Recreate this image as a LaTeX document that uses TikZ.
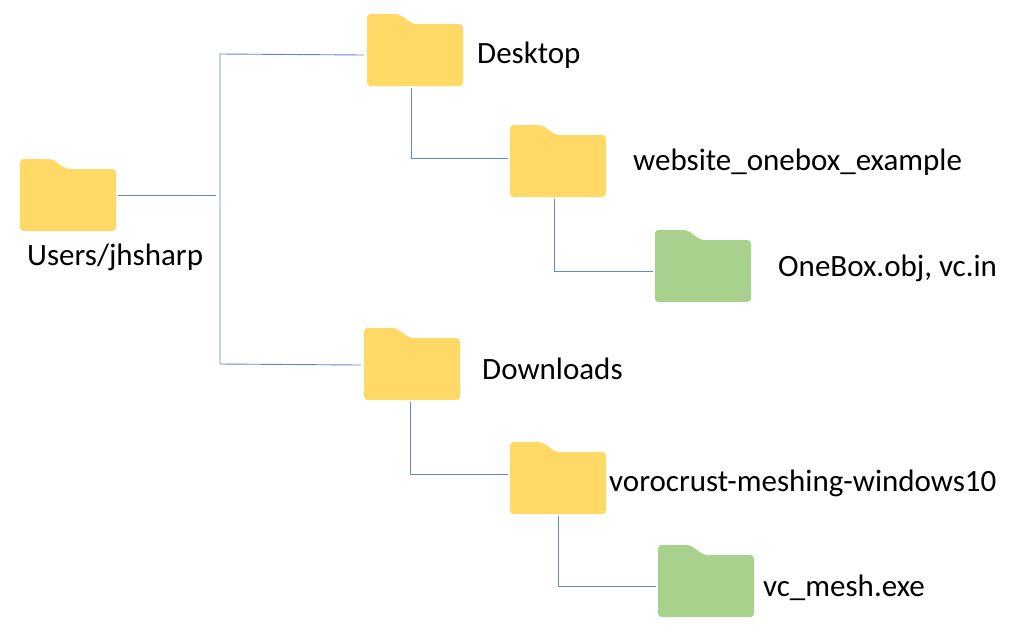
\documentclass[tikz,border=0pt]{standalone}
\usepackage{fontspec}
\setmainfont{Carlito}
\definecolor{folderyellow}{HTML}{FFD966}
\definecolor{foldergreen}{HTML}{A9D18E}
\definecolor{linkblue}{HTML}{5F86D2}
\tikzset{
  folderbox/.style={minimum width=96pt,minimum height=72pt,inner sep=0pt,outer sep=2pt,anchor=north west},
  folderlabel/.style={font=\fontsize{31}{34}\selectfont,text=black,inner sep=0pt,anchor=base west},
  link/.style={draw=linkblue,line width=0.9pt,line join=miter}
}
% A folder icon with its bounding node; #1 name, #2 colour, #3 left edge, #4 top edge
\newcommand{\foldericon}[4]{%
  \node[folderbox] (#1) at (#3-2,#4-2) {};
  \fill[#2,rounded corners=3.5pt] (#3,#4+72) -- (#3,#4) -- (#3+32,#4) -- (#3+46,#4+10)
     -- (#3+96,#4+10) -- (#3+96,#4+72) -- cycle;
}
\begin{document}
\begin{tikzpicture}[x=1pt,y=-1pt]
\useasboundingbox[fill=white] (0,0) rectangle (1024,641);

\foldericon{users}{folderyellow}{20}{159}
\foldericon{desktop}{folderyellow}{367}{14}
\foldericon{website}{folderyellow}{510}{125}
\foldericon{onebox}{foldergreen}{655}{230}
\foldericon{downloads}{folderyellow}{364}{328}
\foldericon{voro}{folderyellow}{510}{442}
\foldericon{vcmesh}{foldergreen}{658}{545}

\node[folderlabel] (tusers) at (27,265) {Users/jhsharp};
\node[folderlabel] (tdesktop) at (477,63) {Desktop};
\node[folderlabel] (twebsite) at (633,170) {website\_onebox\_example};
\node[folderlabel] (tonebox) at (778,276) {OneBox.obj, vc.in};
\node[folderlabel] (tdownloads) at (482,379) {Downloads};
\node[folderlabel] (tvoro) at (609,491) {vorocrust-meshing-windows10};
\node[folderlabel] (tvcmesh) at (763,596) {vc\_mesh.exe};

% Trunk joining the two top-level branches
\coordinate (trunktop) at (220,54);
\coordinate (trunkbot) at (220,364);
\coordinate (stub) at (216,195);
\draw[link] (users.east |- stub) -- (stub);
\draw[link] ([xshift=-1pt]desktop.west |- 0,55) -- (trunktop) -- (trunkbot) -- ([xshift=-1pt]downloads.west |- 0,365);

% Elbows from each parent folder down to its child
\coordinate (e1) at (411.5,158);
\coordinate (e2) at (554,271);
\coordinate (e3) at (410.5,474);
\coordinate (e4) at (558.5,586);
\draw[link] (e1 |- desktop.south) -- (e1) -- (website.west |- e1);
\draw[link] (e2 |- website.south) -- (e2) -- (onebox.west |- e2);
\draw[link] (e3 |- downloads.south) -- (e3) -- (voro.west |- e3);
\draw[link] (e4 |- voro.south) -- (e4) -- (vcmesh.west |- e4);
\end{tikzpicture}
\end{document}
